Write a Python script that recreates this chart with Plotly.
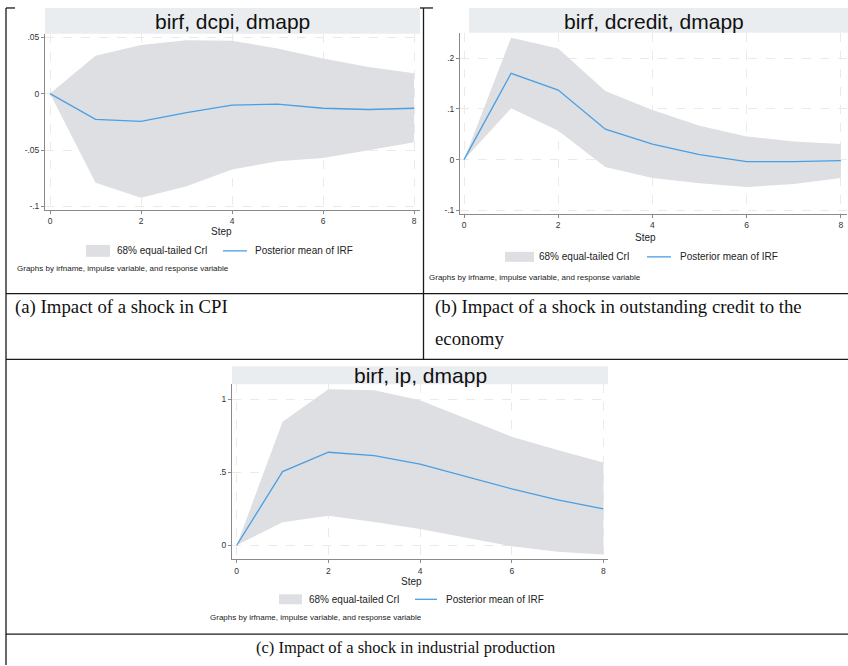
import plotly.graph_objects as go

W, H = 848, 666

# ---------------- data ----------------
steps = [0, 1, 2, 3, 4, 5, 6, 7, 8]

cpi_mean = [0, -0.0229, -0.0247, -0.0168, -0.0103, -0.0094, -0.0130, -0.0141, -0.0130]
cpi_upper = [0, 0.0335, 0.0430, 0.0473, 0.0467, 0.0400, 0.0311, 0.0235, 0.0179]
cpi_lower = [0, -0.0791, -0.0923, -0.0820, -0.0673, -0.0600, -0.0570, -0.0503, -0.0432]

credit_mean = [0, 0.170, 0.137, 0.060, 0.0306, 0.0098, -0.004, -0.004, -0.002]
credit_upper = [0, 0.240, 0.219, 0.135, 0.098, 0.0667, 0.0457, 0.036, 0.031]
credit_lower = [0, 0.101, 0.057, -0.0145, -0.036, -0.0465, -0.054, -0.048, -0.036]

ip_mean = [0, 0.505, 0.638, 0.615, 0.556, 0.471, 0.387, 0.312, 0.249]
ip_upper = [0, 0.847, 1.070, 1.063, 0.995, 0.870, 0.745, 0.654, 0.567]
ip_lower = [0, 0.157, 0.203, 0.160, 0.112, 0.050, -0.007, -0.045, -0.064]

x_ticks = [0, 2, 4, 6, 8]
x_tick_labels = ["0", "2", "4", "6", "8"]
cpi_yticks = [0.05, 0, -0.05, -0.1]
cpi_ytick_labels = [".05", "0", "-.05", "-.1"]
credit_yticks = [0.2, 0.1, 0, -0.1]
credit_ytick_labels = [".2", ".1", "0", "-.1"]
ip_yticks = [1, 0.5, 0]
ip_ytick_labels = ["1", ".5", "0"]

titles = ["birf, dcpi, dmapp", "birf, dcredit, dmapp", "birf, ip, dmapp"]
legend_band = "68% equal-tailed CrI"
legend_line = "Posterior mean of IRF"
note_text = "Graphs by irfname, impulse variable, and response variable"
captions = ["(a) Impact of a shock in CPI",
            "(b) Impact of a shock in outstanding credit to the",
            "economy",
            "(c) Impact of a shock in industrial production"]

# ---------------- style ----------------
BAND = "#dddfe2"
TBAND = "#eaedf0"
BLUE = "#4a9fe4"
AX = "#8a8a8a"
TXT = "#222222"
SANS = "Liberation Sans, Arial, sans-serif"
SERIF = "Liberation Serif, Times New Roman, serif"


def PX(x):
    return x / W


def PY(y):
    return 1 - y / H


fig = go.Figure()

panels = [
    dict(ax="", mean=cpi_mean, up=cpi_upper, lo=cpi_lower,
         xpx=(45, 420), ypx=(32, 209), xr=(-0.11, 8.13), yr=(-0.1032, 0.0529),
         yt=cpi_yticks, ytl=cpi_ytick_labels,
         band=(45, 420, 6, 32), title=(232, 20),
         step=(221.5, 231),
         leg=dict(box=(86, 110, 244, 256), t1=115, line=(223, 247), t2=253, y=250),
         note=(15, 268)),
    dict(ax="2", mean=credit_mean, up=credit_upper, lo=credit_lower,
         xpx=(460, 847), ypx=(31, 213), xr=(-0.085, 8.13), yr=(-0.107, 0.2496),
         yt=credit_yticks, ytl=credit_ytick_labels,
         band=(469, 848, 6, 31), title=(654, 20),
         step=(645, 237),
         leg=dict(box=(505, 534, 251, 261), t1=537, line=(647, 671), t2=678, y=256),
         note=(427, 277)),
    dict(ax="3", mean=ip_mean, up=ip_upper, lo=ip_lower,
         xpx=(232, 608), ypx=(384, 560), xr=(-0.103, 8.10), yr=(-0.0977, 1.1045),
         yt=ip_yticks, ytl=ip_ytick_labels,
         band=(232, 608, 366, 384), title=(420, 375),
         step=(411.7, 581.7),
         leg=dict(box=(279, 302, 595, 605), t1=307, line=(415, 437), t2=444, y=600),
         note=(208, 618)),
]

shapes = []
annotations = []

for i, p in enumerate(panels):
    xa = "x" + p["ax"]
    ya = "y" + p["ax"]
    # credible band polygon
    fig.add_trace(go.Scatter(
        x=steps + steps[::-1], y=p["up"] + p["lo"][::-1],
        fill="toself", fillcolor=BAND, line=dict(width=0), mode="lines",
        hoverinfo="skip", showlegend=False, xaxis=xa, yaxis=ya))
    fig.add_trace(go.Scatter(
        x=steps, y=p["mean"], mode="lines", line=dict(color=BLUE, width=1.3),
        showlegend=False, xaxis=xa, yaxis=ya))

    axis_common = dict(showline=True, linecolor=AX, linewidth=1, ticks="outside",
                       ticklen=3, tickcolor=AX, tickwidth=1,
                       tickfont=dict(family=SANS, size=8.5, color="#333333"),
                       showgrid=True, gridcolor="#eaeaea", gridwidth=1,
                       griddash="dash", zeroline=False, mirror=False)
    fig.update_layout(**{
        "xaxis" + p["ax"]: dict(domain=[PX(p["xpx"][0]), PX(p["xpx"][1])],
                                range=list(p["xr"]), anchor=ya,
                                tickvals=x_ticks, ticktext=x_tick_labels,
                                **axis_common),
        "yaxis" + p["ax"]: dict(domain=[PY(p["ypx"][1]), PY(p["ypx"][0])],
                                range=list(p["yr"]), anchor=xa,
                                tickvals=p["yt"], ticktext=p["ytl"],
                                **axis_common),
    })

    # title band
    b = p["band"]
    shapes.append(dict(type="rect", xref="paper", yref="paper",
                       x0=PX(b[0]), x1=PX(b[1]), y0=PY(b[3]), y1=PY(b[2]),
                       fillcolor=TBAND, line=dict(width=0), layer="below"))
    annotations.append(dict(text=titles[i], x=PX(p["title"][0]), y=PY(p["title"][1]),
                            xref="paper", yref="paper", showarrow=False,
                            xanchor="center", yanchor="middle",
                            font=dict(family=SANS, size=21, color="#111111")))
    annotations.append(dict(text="Step", x=PX(p["step"][0]), y=PY(p["step"][1]),
                            xref="paper", yref="paper", showarrow=False,
                            xanchor="center", yanchor="middle",
                            font=dict(family=SANS, size=10, color=TXT)))
    lg = p["leg"]
    shapes.append(dict(type="rect", xref="paper", yref="paper",
                       x0=PX(lg["box"][0]), x1=PX(lg["box"][1]),
                       y0=PY(lg["box"][3]), y1=PY(lg["box"][2]),
                       fillcolor=BAND, line=dict(width=0)))
    shapes.append(dict(type="line", xref="paper", yref="paper",
                       x0=PX(lg["line"][0]), x1=PX(lg["line"][1]),
                       y0=PY(lg["y"]), y1=PY(lg["y"]),
                       line=dict(color=BLUE, width=1.3)))
    annotations.append(dict(text=legend_band, x=PX(lg["t1"]), y=PY(lg["y"]),
                            xref="paper", yref="paper", showarrow=False,
                            xanchor="left", yanchor="middle",
                            font=dict(family=SANS, size=10, color=TXT)))
    annotations.append(dict(text=legend_line, x=PX(lg["t2"]), y=PY(lg["y"]),
                            xref="paper", yref="paper", showarrow=False,
                            xanchor="left", yanchor="middle",
                            font=dict(family=SANS, size=10, color=TXT)))
    annotations.append(dict(text=note_text, x=PX(p["note"][0]), y=PY(p["note"][1]),
                            xref="paper", yref="paper", showarrow=False,
                            xanchor="left", yanchor="middle",
                            font=dict(family=SANS, size=8, color=TXT)))

# table lines
LC = "#1a1a1a"
LW = 1.3
table_lines = [
    (6, 6, 6, 666),        # left border
    (6, 6, 15, 6),         # top stub left
    (420, 6, 433, 6),      # top stub middle
    (423.5, 6, 423.5, 359),  # middle divider
    (6, 293, 848, 293),
    (6, 359, 848, 359),
    (6, 635, 848, 635),
]
for x0, y0, x1, y1 in table_lines:
    shapes.append(dict(type="line", xref="paper", yref="paper",
                       x0=PX(x0), y0=PY(y0), x1=PX(x1), y1=PY(y1),
                       line=dict(color=LC, width=LW)))

# captions
cap_pos = [(13, 306, "left", 18.8), (433, 306, "left", 18.8),
           (433, 338, "left", 18.8), (405, 648, "center", 16.5)]
for txt, (cx, cy, anc, fs) in zip(captions, cap_pos):
    annotations.append(dict(text=txt, x=PX(cx), y=PY(cy), xref="paper", yref="paper",
                            showarrow=False, xanchor=anc, yanchor="middle",
                            font=dict(family=SERIF, size=fs, color="#111111")))

fig.update_layout(width=W, height=H, margin=dict(l=0, r=0, t=0, b=0),
                  paper_bgcolor="white", plot_bgcolor="white",
                  showlegend=False, shapes=shapes, annotations=annotations)

fig.write_html("out.html", config={"displayModeBar": False},
               post_script="document.body.style.margin='0';document.body.style.overflow='hidden';")
